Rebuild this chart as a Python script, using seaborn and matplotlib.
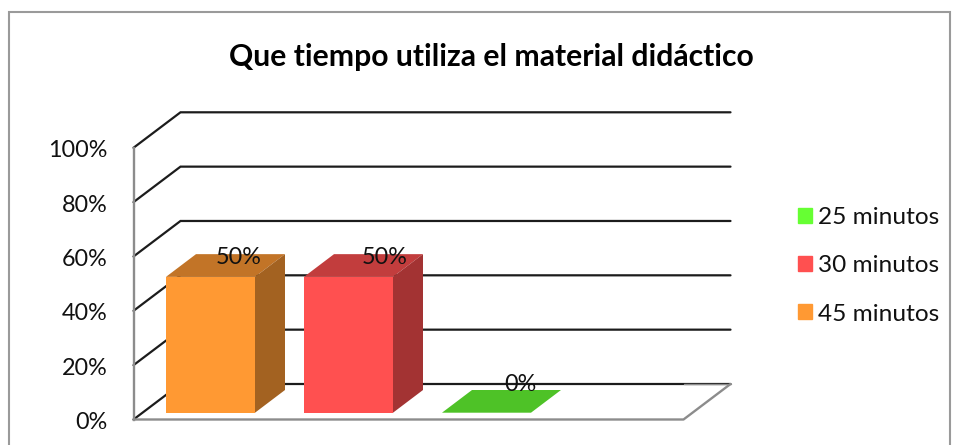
import pandas as pd
import seaborn as sns
import matplotlib.pyplot as plt
from matplotlib.patches import Polygon, Patch, Rectangle
from matplotlib.colors import to_rgb

titulo = 'Que tiempo utiliza el material didáctico'
categorias = ['45 minutos', '30 minutos', '25 minutos']
valores = [50, 50, 0]
etiquetas = ['50%', '50%', '0%']
ticks = [0, 20, 40, 60, 80, 100]
colores = ['#FF9933', '#FF5050', '#66FF33']

W, H = 959, 445
# plano frontal del grafico, en pixeles
LEFT, RIGHT, BOTTOM, TOP = 133.5, 683.5, 419.5, 147.8
PX_X = 138.0  # pixeles por categoria
PX_Y = (BOTTOM - TOP) / 100

sns.set_theme(style='white')
plt.rcParams['font.family'] = ['Lato', 'DejaVu Sans']

fig = plt.figure(figsize=(W / 100, H / 100), dpi=100)
ax = fig.add_axes([LEFT / W, 1 - BOTTOM / H, (RIGHT - LEFT) / W, (BOTTOM - TOP) / H])
ax.patch.set_alpha(0)

df = pd.DataFrame({'tiempo': categorias, 'valor': valores})
base = 6.8 / PX_Y
sns.barplot(data=df, x='tiempo', y='valor', hue='tiempo', palette=colores, saturation=1,
            width=89 / PX_X, bottom=base, legend=False, ax=ax, linewidth=0, zorder=3)

x0 = -(210.5 - LEFT) / PX_X
x1 = (RIGHT - 210.5) / PX_X
ax.set_xlim(x0, x1)
ax.set_ylim(0, 100)

# paredes: profundidad del cuadro
dx = 47 / PX_X
dy = 35.5 / PX_Y
for t in ticks:
    ax.plot([x0, x0 + dx, x1 + dx], [t, t + dy, t + dy], color='#1c1c1c', lw=1.6,
            clip_on=False, zorder=1, solid_joinstyle='miter')
ax.plot([x0, x1, x1 + dx], [0, 0, dy], color='#8c8c8c', lw=1.7, clip_on=False, zorder=1.5)
ax.plot([x1, x1 + dx], [dy, dy], color='#8c8c8c', lw=1.0, clip_on=False, zorder=1.5)

# caras laterales y superiores de las barras
bar_dx = 30 / PX_X
bar_dy = 22.7 / PX_Y
for rect, color, valor in zip(ax.patches[:len(valores)], colores, valores):
    xa = rect.get_x()
    xb = xa + rect.get_width()
    yb = rect.get_y()
    yt = yb + rect.get_height()
    rgb = to_rgb(color)
    tapa = tuple(c * 0.76 for c in rgb)
    lado = tuple(c * 0.64 for c in rgb)
    ax.add_patch(Polygon([(xa, yt), (xb, yt), (xb + bar_dx, yt + bar_dy), (xa + bar_dx, yt + bar_dy)],
                         closed=True, fc=tapa, ec='none', clip_on=False, zorder=3))
    if valor > 0:
        ax.add_patch(Polygon([(xb, yb), (xb, yt), (xb + bar_dx, yt + bar_dy), (xb + bar_dx, yb + bar_dy)],
                             closed=True, fc=lado, ec='none', clip_on=False, zorder=3))

# etiquetas de datos
desplaz = [(28.5, 19), (36, 19), (34, 28)]
for i, (valor, txt) in enumerate(zip(valores, etiquetas)):
    ax.annotate(txt, (i, valor + base), xytext=(desplaz[i][0] * 0.72, desplaz[i][1] * 0.72),
                textcoords='offset points', ha='center', va='center', fontsize=16.8,
                color='#111111', zorder=5, annotation_clip=False)

# el texto del eje queda un poco por debajo de cada marca
ax.set_yticks(ticks)
ax.set_yticklabels([])
for t in ticks:
    ax.annotate(f'{t}%', (x0, t), xytext=(-26 * 0.72, -3 * 0.72), textcoords='offset points',
                ha='right', va='center', fontsize=16.8, color='#111111', annotation_clip=False)
ax.set_xticks([])
ax.set_xlabel('')
ax.set_ylabel('')
ax.tick_params(axis='y', length=0)
sns.despine(ax=ax, top=True, right=True, bottom=True)
ax.spines['left'].set_color('#8c8c8c')
ax.spines['left'].set_linewidth(1.7)

fig.text(491 / W, 1 - 57 / H, titulo, ha='center', va='center', fontsize=21.7, fontweight='bold',
         color='black')

handles = [Patch(color=colores[i], label=categorias[i]) for i in [2, 1, 0]]
fig.legend(handles=handles, loc='upper left', bbox_to_anchor=(798 / W, 1 - 207 / H), frameon=False,
           fontsize=17.6, handlelength=0.58, handleheight=0.58, handletextpad=0.24, labelspacing=1.115,
           labelcolor='#111111', borderpad=0, borderaxespad=0)

# borde exterior del area del grafico
fig.add_artist(Rectangle((9 / W, -0.02), (950 - 9) / W, 1.02 - 12 / H, transform=fig.transFigure,
                         fill=False, ec='#9a9a9a', lw=1.5))

fig.savefig('out.png', dpi=100)
